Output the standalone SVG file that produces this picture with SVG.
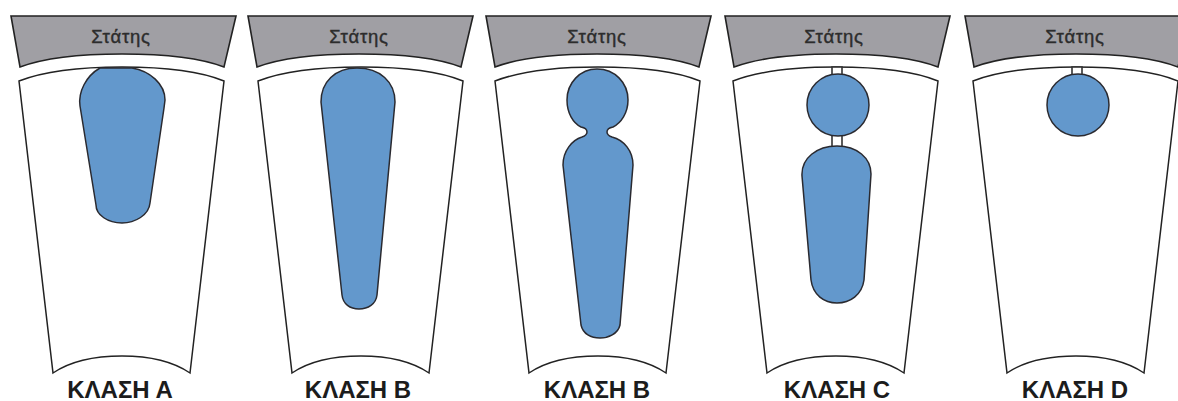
<svg xmlns="http://www.w3.org/2000/svg" width="1178" height="401" viewBox="0 0 1178 401">
<style>
.stator{fill:#a09fa4;stroke:#222;stroke-width:1.6;stroke-linejoin:miter}
.rotor{fill:#fff;stroke:#222;stroke-width:1.5}
.bar{fill:#6398cc;stroke:#2a2a30;stroke-width:1.5}
.neck{fill:#fff;stroke:#333;stroke-width:1.6}
.st{font-family:"Liberation Sans",Arial,sans-serif;font-size:18.5px;fill:#2c2c2c;text-anchor:middle;letter-spacing:.8px;stroke:#2c2c2c;stroke-width:.4}
.lb{font-family:"Liberation Sans",Arial,sans-serif;font-size:24px;font-weight:700;fill:#1c1c1c;text-anchor:middle}
</style>
<defs>
<path id="s" class="stator" d="M11 16H236L224 67Q190 54 122 54Q55 54 20 67Z"/>
<path id="r" class="rotor" d="M19 81Q55 67 122 67Q190 67 224 81L190 373Q165 356 122 356Q78 356 53 373Z"/>
</defs>
<rect width="1178" height="401" fill="#fff"/>
<g id="panel-a">
<use href="#s"/><use href="#r"/>
<path class="bar" d="M100 68H132C150 71 165 84 165 100L164 108L150 203C149 215 135 223 122 223C108 223 96 215 96 205L80 106C78 92 86 76 100 68Z"/>
<text class="st" x="121" y="43">Στάτης</text>
<text class="lb" x="120" y="398">ΚΛΑΣΗ Α</text>
</g>
<g id="panel-b">
<use href="#s" x="237"/><use href="#r" x="239"/>
<path class="bar" d="M357 68C380 68 395 82 395 102L377 295C376 304 368 309 359 309C350 309 343 304 342 295L321 102C321 82 335 68 357 68Z"/>
<text class="st" x="359" y="43">Στάτης</text>
<text class="lb" x="358" y="398">ΚΛΑΣΗ Β</text>
</g>
<g id="panel-c">
<use href="#s" x="475"/><use href="#r" x="476"/>
<path class="bar" d="M597 69C615 69 628 83 628 100C628 113 621 123 613 127C608 128 607 130 607 132C607 135 609 136 612 137C624 140 633 151 633 165L620 325C618 334 608 338 600 338C591 338 583 334 581 325L563 165C563 151 572 140 582 137C585 136 587 135 587 132C587 130 586 128 581 127C573 123 567 113 567 100C567 83 580 69 597 69Z"/>
<text class="st" x="597" y="43">Στάτης</text>
<text class="lb" x="597" y="398">ΚΛΑΣΗ Β</text>
</g>
<g id="panel-d">
<use href="#s" x="714"/><use href="#r" x="714"/>
<rect class="neck" x="832" y="67" width="10" height="9"/>
<rect class="neck" x="832" y="135" width="10" height="12"/>
<circle class="bar" cx="838" cy="105" r="31"/>
<path class="bar" d="M837 146C857 146 871 158 871 174L864 280C862 295 850 303 837 303C824 303 813 295 811 280L802 176C801 158 817 146 837 146Z"/>
<text class="st" x="834" y="43">Στάτης</text>
<text class="lb" x="837" y="398">ΚΛΑΣΗ C</text>
</g>
<g id="panel-e">
<use href="#s" x="954"/><use href="#r" x="954"/>
<rect class="neck" x="1072" y="67" width="10" height="9"/>
<circle class="bar" cx="1078" cy="105" r="31"/>
<text class="st" x="1075" y="43">Στάτης</text>
<text class="lb" x="1075" y="398">ΚΛΑΣΗ D</text>
</g>
</svg>
